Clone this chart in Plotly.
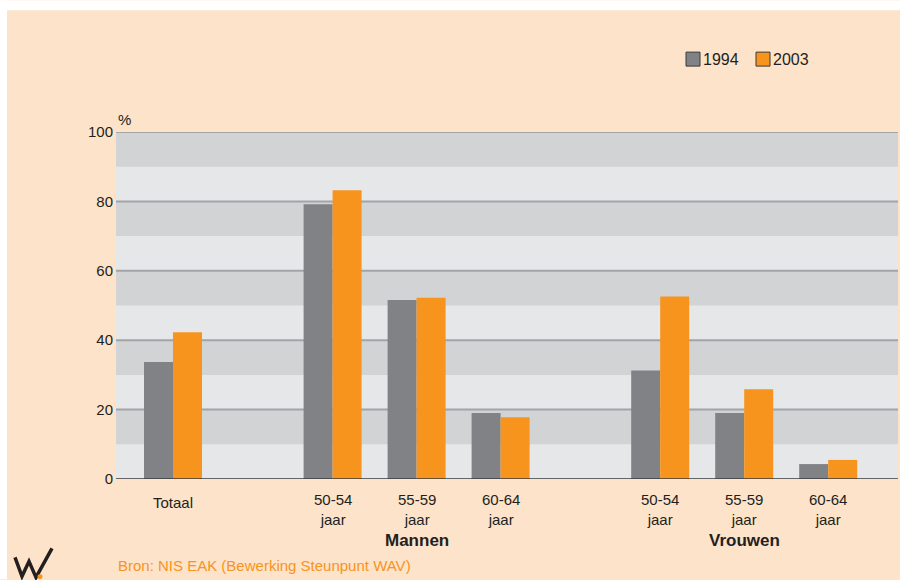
import plotly.graph_objects as go

# ---------------- data ----------------
group_names = ["", "Mannen", "Vrouwen"]
group_items = [
    ["Totaal"],
    ["50-54<br>jaar", "55-59<br>jaar", "60-64<br>jaar"],
    ["50-54<br>jaar", "55-59<br>jaar", "60-64<br>jaar"],
]
values_1994 = [33.7, 79.2, 51.6, 19.0, 31.3, 19.0, 4.3]
values_2003 = [42.3, 83.2, 52.2, 17.8, 52.6, 25.9, 5.5]
series_names = ["1994", "2003"]
y_ticks = [0, 20, 40, 60, 80, 100]

# ---------------- style ----------------
FONT = "Liberation Sans, Arial, sans-serif"
PEACH = "#FDE3C9"
GRAY = "#808285"
ORANGE = "#F7941D"
BAND_LIGHT = "#E6E7E8"
BAND_DARK = "#D1D3D4"
GRID = "#A2A4A7"
TXT = "#231F20"

W, H = 900, 580
L, R, T, B = 116, 2, 132, 100.5
pw, ph = W - L - R, H - T - B


def px2x(px):
    return (px - L) / pw


def py2y(py):
    return (H - B - py) / ph


# positions along the x axis computed from the group structure
group_gap = 0.9
xpos, labels, group_centers = [], [], []
pos = 0.0
for gi, items in enumerate(group_items):
    start = pos
    for it in items:
        xpos.append(pos)
        labels.append(it)
        pos += 1
    group_centers.append((start + pos - 1) / 2)
    pos += group_gap

fig = go.Figure()
fig.add_trace(go.Bar(x=xpos, y=values_1994, name=series_names[0],
                     marker=dict(color=GRAY, line=dict(width=0)), showlegend=False))
fig.add_trace(go.Bar(x=xpos, y=values_2003, name=series_names[1],
                     marker=dict(color=ORANGE, line=dict(width=0)), showlegend=False))

shapes = []
# white margins around the peach panel
shapes.append(dict(type="rect", xref="paper", yref="paper", x0=px2x(0), x1=px2x(W),
                   y0=py2y(10), y1=py2y(0), fillcolor="white", line=dict(width=0), layer="below"))
shapes.append(dict(type="rect", xref="paper", yref="paper", x0=px2x(0), x1=px2x(7),
                   y0=py2y(H), y1=py2y(0), fillcolor="white", line=dict(width=0), layer="below"))
# horizontal bands
for lo in range(0, 100, 10):
    col = BAND_DARK if (lo // 10) % 2 == 1 else BAND_LIGHT
    shapes.append(dict(type="rect", xref="paper", yref="y", x0=0, x1=1, y0=lo, y1=lo + 10,
                       fillcolor=col, line=dict(width=0), layer="below"))
for v in y_ticks[1:]:
    shapes.append(dict(type="line", xref="paper", yref="y", x0=0, x1=1, y0=v, y1=v,
                       line=dict(color=GRID, width=2), layer="below"))
# baseline
shapes.append(dict(type="line", xref="paper", yref="y", x0=0, x1=1, y0=0, y1=0,
                   line=dict(color="#3A3A3A", width=1.5), layer="above"))

# legend squares
leg = [(686, GRAY, series_names[0]), (756, ORANGE, series_names[1])]
annotations = []
for x0, col, name in leg:
    shapes.append(dict(type="rect", xref="paper", yref="paper",
                       x0=px2x(x0), x1=px2x(x0 + 14), y0=py2y(66), y1=py2y(52),
                       fillcolor=col, line=dict(color="#3A3A3A", width=1)))
    annotations.append(dict(text=name, xref="paper", yref="paper", x=px2x(x0 + 15), y=py2y(59),
                            xanchor="left", yanchor="middle", showarrow=False,
                            font=dict(family=FONT, size=16, color=TXT)))

# logo (stylised W)
logo = [(15, 558), (22, 577), (29, 562), (36, 578), (52, 549)]
path = "M " + " L ".join(f"{px2x(a)},{py2y(b)}" for a, b in logo)
shapes.append(dict(type="path", xref="paper", yref="paper", path=path,
                   line=dict(color="#231F20", width=3.5)))
shapes.append(dict(type="circle", xref="paper", yref="paper",
                   x0=px2x(37.5), x1=px2x(42.5), y0=py2y(580), y1=py2y(575),
                   fillcolor=ORANGE, line=dict(width=0)))

# x labels
for x, lab in zip(xpos, labels):
    n = len(lab.split("<br>"))
    ycen = 503 if n == 1 else 510
    annotations.append(dict(text=lab, xref="x", yref="paper", x=x,
                            y=py2y(ycen), xanchor="center", yanchor="middle",
                            showarrow=False, font=dict(family=FONT, size=15, color=TXT)))
for gname, gc in zip(group_names, group_centers):
    if gname:
        annotations.append(dict(text=f"<b>{gname}</b>", xref="x", yref="paper", x=gc,
                                y=py2y(541), xanchor="center", yanchor="middle",
                                showarrow=False, font=dict(family=FONT, size=17, color=TXT)))

annotations.append(dict(text="%", xref="paper", yref="paper", x=px2x(116), y=py2y(119),
                        xanchor="left", yanchor="middle", showarrow=False,
                        font=dict(family=FONT, size=15, color=TXT)))
annotations.append(dict(text="Bron: NIS EAK (Bewerking Steunpunt WAV)", xref="paper", yref="paper",
                        x=px2x(116), y=py2y(566), xanchor="left", yanchor="middle",
                        showarrow=False, font=dict(family=FONT, size=15, color=ORANGE)))

slot = 84
fig.update_layout(
    width=W, height=H,
    margin=dict(l=L, r=R, t=T, b=B, pad=0),
    paper_bgcolor=PEACH, plot_bgcolor=BAND_LIGHT,
    barmode="group", bargap=1 - 58 / slot, bargroupgap=0,
    shapes=shapes, annotations=annotations,
    font=dict(family=FONT, color=TXT),
    xaxis=dict(range=[(L - 173) / slot, (L + pw - 173) / slot], showticklabels=False,
               showgrid=False, zeroline=False, ticks=""),
    yaxis=dict(range=[0, 100], tickvals=y_ticks, showgrid=False, zeroline=False,
               tickfont=dict(family=FONT, size=15, color=TXT), ticks="", ticklabelstandoff=2),
)

fig.write_html("out.html", config={"displayModeBar": False},
               post_script="document.body.style.margin='0';")
